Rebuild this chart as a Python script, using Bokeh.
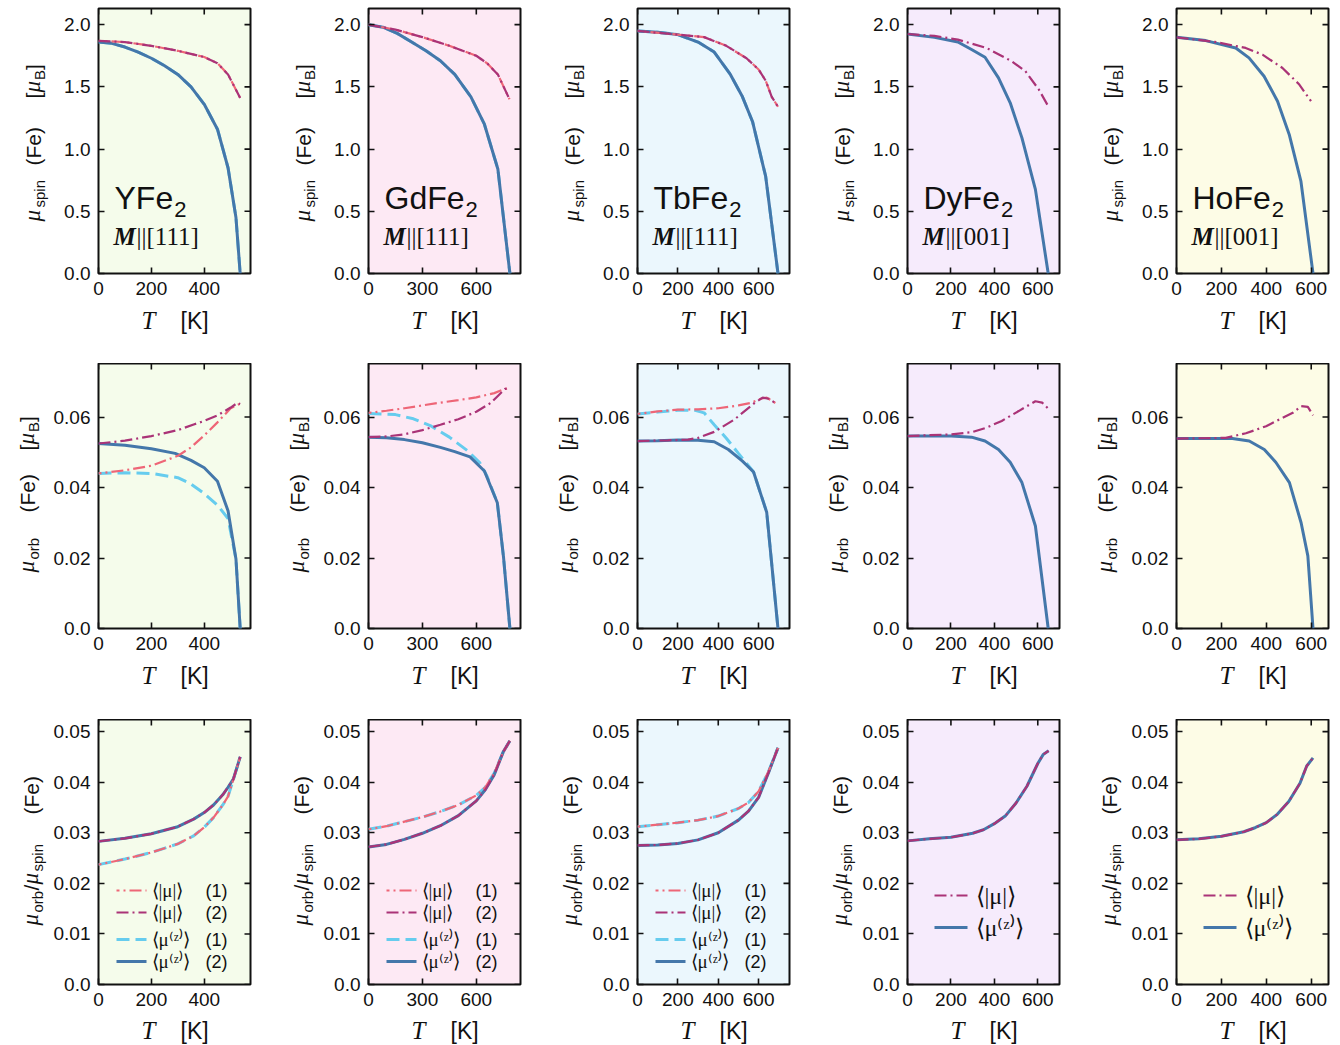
import math
from bokeh.plotting import figure
from bokeh.models import Range1d, FixedTicker, CustomJSTickFormatter, Label
from bokeh.layouts import column, row
from bokeh.embed import file_html
from bokeh.resources import INLINE

SANS = "Liberation Sans"
SERIF = "Liberation Serif"
INK = "#111111"

# ---------------- categories / labels ----------------
COMPOUNDS = ["YFe", "GdFe", "TbFe", "DyFe", "HoFe"]
DIRECTIONS = ["[111]", "[111]", "[111]", "[001]", "[001]"]
BG = ["#F5FCEB", "#FDE9F4", "#EBF7FD", "#F6EBFC", "#FDFCE6"]
X_MAX = [575, 846, 753, 700, 677]
X_TICKS = [[0, 200, 400], [0, 300, 600], [0, 200, 400, 600], [0, 200, 400, 600], [0, 200, 400, 600]]
Y_MAX = [2.13, 0.0752, 0.0524]
Y_TICKS = [[0, 0.5, 1.0, 1.5, 2.0], [0, 0.02, 0.04, 0.06], [0, 0.01, 0.02, 0.03, 0.04, 0.05]]

C_ABS1 = "#EE6677"
C_ABS2 = "#AA3377"
C_Z1 = "#66CCEE"
C_Z2 = "#4477AA"

# ---------------- YFe2 ----------------
YFE2_T_SPIN_Z = [0, 50, 100, 150, 200, 250, 300, 350, 400, 450, 490, 520, 536]
YFE2_SPIN_Z = [1.86, 1.85, 1.82, 1.78, 1.73, 1.67, 1.60, 1.50, 1.36, 1.16, 0.85, 0.45, 0.0]
YFE2_T_SPIN_ABS = [0, 100, 200, 300, 400, 450, 490, 536]
YFE2_SPIN_ABS = [1.87, 1.86, 1.83, 1.79, 1.74, 1.69, 1.60, 1.41]
YFE2_T_ORB_Z2 = [0, 100, 200, 290, 350, 400, 450, 490, 520, 536]
YFE2_ORB_Z2 = [0.0525, 0.0520, 0.0510, 0.0497, 0.0477, 0.0456, 0.0418, 0.0334, 0.0197, 0.0]
YFE2_T_ORB_Z1 = [0, 100, 200, 300, 350, 400, 450, 490, 520, 536]
YFE2_ORB_Z1 = [0.0440, 0.0442, 0.0440, 0.0428, 0.0410, 0.0383, 0.0350, 0.0312, 0.0197, 0.0]
YFE2_T_ORB_ABS1 = [0, 100, 200, 300, 350, 400, 450, 500, 536]
YFE2_ORB_ABS1 = [0.0440, 0.0449, 0.0462, 0.0490, 0.0514, 0.0548, 0.0585, 0.0625, 0.0638]
YFE2_T_ORB_ABS2 = [0, 100, 200, 300, 360, 400, 450, 500, 525, 536]
YFE2_ORB_ABS2 = [0.0525, 0.0533, 0.0546, 0.0563, 0.0579, 0.0589, 0.0605, 0.0627, 0.0640, 0.0637]
YFE2_T_RATIO = [0, 100, 200, 300, 360, 400, 435, 470, 490, 510, 536]
YFE2_RATIO2 = [0.0283, 0.0289, 0.0298, 0.0312, 0.0327, 0.0340, 0.0355, 0.0375, 0.0390, 0.0406, 0.0450]
YFE2_RATIO1 = [0.0237, 0.0248, 0.0261, 0.0278, 0.0294, 0.0311, 0.0330, 0.0355, 0.0372, 0.0405, 0.0450]

# ---------------- GdFe2 ----------------
GDFE2_T_SPIN_Z = [0, 80, 160, 240, 320, 400, 480, 570, 645, 720, 787]
GDFE2_SPIN_Z = [2.00, 1.98, 1.93, 1.86, 1.79, 1.71, 1.60, 1.42, 1.20, 0.84, 0.0]
GDFE2_T_SPIN_ABS = [0, 150, 300, 450, 600, 660, 720, 785]
GDFE2_SPIN_ABS = [2.00, 1.96, 1.90, 1.83, 1.75, 1.69, 1.60, 1.40]
GDFE2_T_ORB_Z2 = [0, 100, 200, 300, 400, 480, 565, 645, 717, 752, 787]
GDFE2_ORB_Z2 = [0.0543, 0.0541, 0.0536, 0.0527, 0.0514, 0.0502, 0.0487, 0.0447, 0.0357, 0.0200, 0.0]
GDFE2_T_ORB_Z1 = [0, 150, 250, 350, 450, 550, 620, 660, 717, 752, 787]
GDFE2_ORB_Z1 = [0.0610, 0.0607, 0.0595, 0.0574, 0.0543, 0.0505, 0.0470, 0.0432, 0.0357, 0.0200, 0.0]
GDFE2_T_ORB_ABS1 = [0, 100, 200, 300, 400, 500, 600, 700, 760, 787]
GDFE2_ORB_ABS1 = [0.0612, 0.0618, 0.0625, 0.0633, 0.0641, 0.0648, 0.0656, 0.0668, 0.0680, 0.0682]
GDFE2_T_ORB_ABS2 = [0, 100, 200, 300, 400, 500, 600, 680, 720, 760, 787]
GDFE2_ORB_ABS2 = [0.0543, 0.0545, 0.0551, 0.0563, 0.0578, 0.0594, 0.0615, 0.0640, 0.0660, 0.0680, 0.0680]
GDFE2_T_RATIO = [0, 100, 200, 300, 400, 500, 600, 650, 700, 750, 787]
GDFE2_RATIO2 = [0.0272, 0.0277, 0.0287, 0.0299, 0.0314, 0.0334, 0.0363, 0.0385, 0.0415, 0.0460, 0.0482]
GDFE2_RATIO1 = [0.0307, 0.0313, 0.0322, 0.0331, 0.0342, 0.0355, 0.0374, 0.0390, 0.0418, 0.0460, 0.0482]

# ---------------- TbFe2 ----------------
TBFE2_T_SPIN_Z = [0, 100, 200, 300, 380, 460, 520, 570, 635, 696]
TBFE2_SPIN_Z = [1.95, 1.94, 1.92, 1.86, 1.78, 1.60, 1.42, 1.22, 0.78, 0.0]
TBFE2_T_SPIN_ABS = [0, 200, 330, 440, 540, 600, 635, 665, 696]
TBFE2_SPIN_ABS = [1.95, 1.92, 1.90, 1.83, 1.73, 1.64, 1.55, 1.42, 1.34]
TBFE2_T_ORB_Z2 = [0, 100, 200, 300, 380, 450, 520, 575, 640, 696]
TBFE2_ORB_Z2 = [0.0532, 0.0533, 0.0535, 0.0534, 0.0530, 0.0508, 0.0475, 0.0444, 0.0330, 0.0]
TBFE2_T_ORB_Z1 = [0, 100, 200, 280, 330, 380, 440, 500, 575, 640, 696]
TBFE2_ORB_Z1 = [0.0609, 0.0614, 0.0619, 0.0620, 0.0612, 0.0578, 0.0540, 0.0497, 0.0444, 0.0330, 0.0]
TBFE2_T_ORB_ABS1 = [0, 100, 200, 300, 400, 500, 560, 610, 640, 670, 690]
TBFE2_ORB_ABS1 = [0.0609, 0.0616, 0.0621, 0.0622, 0.0625, 0.0633, 0.0640, 0.0652, 0.0655, 0.0645, 0.0637]
TBFE2_T_ORB_ABS2 = [0, 150, 250, 300, 380, 480, 580, 620, 650, 690]
TBFE2_ORB_ABS2 = [0.0532, 0.0534, 0.0536, 0.0541, 0.0558, 0.0593, 0.0640, 0.0655, 0.0652, 0.0637]
TBFE2_T_RATIO = [0, 100, 200, 300, 400, 500, 550, 600, 650, 696]
TBFE2_RATIO2 = [0.0275, 0.0276, 0.0279, 0.0286, 0.0300, 0.0325, 0.0343, 0.0370, 0.0420, 0.0468]
TBFE2_RATIO1 = [0.0312, 0.0316, 0.0320, 0.0325, 0.0333, 0.0348, 0.0360, 0.0382, 0.0422, 0.0468]

# ---------------- DyFe2 ----------------
DYFE2_T_SPIN_Z = [0, 124, 232, 295, 357, 419, 473, 527, 589, 648]
DYFE2_SPIN_Z = [1.925, 1.898, 1.861, 1.80, 1.738, 1.572, 1.372, 1.09, 0.676, 0.0]
DYFE2_T_SPIN_ABS = [0, 124, 232, 364, 480, 543, 605, 648]
DYFE2_SPIN_ABS = [1.925, 1.91, 1.88, 1.813, 1.706, 1.626, 1.478, 1.345]
DYFE2_T_ORB_Z = [0, 202, 295, 357, 419, 473, 527, 589, 648]
DYFE2_ORB_Z = [0.0546, 0.0546, 0.0543, 0.0532, 0.0508, 0.0472, 0.0414, 0.0291, 0.0]
DYFE2_T_ORB_ABS = [0, 202, 295, 364, 434, 512, 589, 620, 648]
DYFE2_ORB_ABS = [0.0546, 0.0551, 0.0557, 0.0570, 0.0589, 0.0617, 0.0645, 0.0641, 0.0624]
DYFE2_T_RATIO = [0, 100, 200, 300, 350, 400, 450, 500, 550, 600, 625, 650]
DYFE2_RATIO = [0.0284, 0.0288, 0.0291, 0.0299, 0.0306, 0.0318, 0.0333, 0.0359, 0.0392, 0.0437, 0.0455, 0.0462]

# ---------------- HoFe2 ----------------
HOFE2_T_SPIN_Z = [0, 130, 264, 323, 390, 450, 502, 554, 608]
HOFE2_SPIN_Z = [1.898, 1.872, 1.813, 1.733, 1.586, 1.385, 1.118, 0.743, 0.0]
HOFE2_T_SPIN_ABS = [0, 174, 308, 383, 472, 547, 599]
HOFE2_SPIN_ABS = [1.898, 1.861, 1.813, 1.759, 1.652, 1.519, 1.385]
HOFE2_T_ORB_Z = [0, 249, 324, 391, 443, 503, 555, 585, 608]
HOFE2_ORB_Z = [0.0539, 0.0539, 0.0532, 0.0508, 0.0471, 0.0414, 0.0300, 0.0206, 0.0]
HOFE2_T_ORB_ABS = [0, 219, 309, 399, 473, 518, 555, 585, 608]
HOFE2_ORB_ABS = [0.0539, 0.0541, 0.0554, 0.0574, 0.0598, 0.0612, 0.0631, 0.0629, 0.0605]
HOFE2_T_RATIO = [0, 100, 200, 300, 350, 400, 450, 500, 550, 580, 608]
HOFE2_RATIO = [0.0286, 0.0288, 0.0293, 0.0302, 0.0310, 0.0320, 0.0337, 0.0362, 0.0398, 0.0432, 0.0448]

# (kind, T, values) per panel; kinds: z1, z2, abs1, abs2
PANELS = {
    (0, 0): [("z1", YFE2_T_SPIN_Z, YFE2_SPIN_Z), ("z2", YFE2_T_SPIN_Z, YFE2_SPIN_Z),
             ("abs1", YFE2_T_SPIN_ABS, YFE2_SPIN_ABS), ("abs2", YFE2_T_SPIN_ABS, YFE2_SPIN_ABS)],
    (1, 0): [("z1", YFE2_T_ORB_Z1, YFE2_ORB_Z1), ("z2", YFE2_T_ORB_Z2, YFE2_ORB_Z2),
             ("abs1", YFE2_T_ORB_ABS1, YFE2_ORB_ABS1), ("abs2", YFE2_T_ORB_ABS2, YFE2_ORB_ABS2)],
    (2, 0): [("z1", YFE2_T_RATIO, YFE2_RATIO1), ("z2", YFE2_T_RATIO, YFE2_RATIO2),
             ("abs1", YFE2_T_RATIO, YFE2_RATIO1), ("abs2", YFE2_T_RATIO, YFE2_RATIO2)],
    (0, 1): [("z1", GDFE2_T_SPIN_Z, GDFE2_SPIN_Z), ("z2", GDFE2_T_SPIN_Z, GDFE2_SPIN_Z),
             ("abs1", GDFE2_T_SPIN_ABS, GDFE2_SPIN_ABS), ("abs2", GDFE2_T_SPIN_ABS, GDFE2_SPIN_ABS)],
    (1, 1): [("z1", GDFE2_T_ORB_Z1, GDFE2_ORB_Z1), ("z2", GDFE2_T_ORB_Z2, GDFE2_ORB_Z2),
             ("abs1", GDFE2_T_ORB_ABS1, GDFE2_ORB_ABS1), ("abs2", GDFE2_T_ORB_ABS2, GDFE2_ORB_ABS2)],
    (2, 1): [("z1", GDFE2_T_RATIO, GDFE2_RATIO1), ("z2", GDFE2_T_RATIO, GDFE2_RATIO2),
             ("abs1", GDFE2_T_RATIO, GDFE2_RATIO1), ("abs2", GDFE2_T_RATIO, GDFE2_RATIO2)],
    (0, 2): [("z1", TBFE2_T_SPIN_Z, TBFE2_SPIN_Z), ("z2", TBFE2_T_SPIN_Z, TBFE2_SPIN_Z),
             ("abs1", TBFE2_T_SPIN_ABS, TBFE2_SPIN_ABS), ("abs2", TBFE2_T_SPIN_ABS, TBFE2_SPIN_ABS)],
    (1, 2): [("z1", TBFE2_T_ORB_Z1, TBFE2_ORB_Z1), ("z2", TBFE2_T_ORB_Z2, TBFE2_ORB_Z2),
             ("abs1", TBFE2_T_ORB_ABS1, TBFE2_ORB_ABS1), ("abs2", TBFE2_T_ORB_ABS2, TBFE2_ORB_ABS2)],
    (2, 2): [("z1", TBFE2_T_RATIO, TBFE2_RATIO1), ("z2", TBFE2_T_RATIO, TBFE2_RATIO2),
             ("abs1", TBFE2_T_RATIO, TBFE2_RATIO1), ("abs2", TBFE2_T_RATIO, TBFE2_RATIO2)],
    (0, 3): [("z2", DYFE2_T_SPIN_Z, DYFE2_SPIN_Z), ("abs2", DYFE2_T_SPIN_ABS, DYFE2_SPIN_ABS)],
    (1, 3): [("z2", DYFE2_T_ORB_Z, DYFE2_ORB_Z), ("abs2", DYFE2_T_ORB_ABS, DYFE2_ORB_ABS)],
    (2, 3): [("z2", DYFE2_T_RATIO, DYFE2_RATIO), ("abs2", DYFE2_T_RATIO, DYFE2_RATIO)],
    (0, 4): [("z2", HOFE2_T_SPIN_Z, HOFE2_SPIN_Z), ("abs2", HOFE2_T_SPIN_ABS, HOFE2_SPIN_ABS)],
    (1, 4): [("z2", HOFE2_T_ORB_Z, HOFE2_ORB_Z), ("abs2", HOFE2_T_ORB_ABS, HOFE2_ORB_ABS)],
    (2, 4): [("z2", HOFE2_T_RATIO, HOFE2_RATIO), ("abs2", HOFE2_T_RATIO, HOFE2_RATIO)],
}

# ---------------- styles / geometry ----------------
STYLE = {
    "z1": dict(line_color=C_Z1, line_width=3.0, line_dash="13 6"),
    "z2": dict(line_color=C_Z2, line_width=3.0),
    "abs1": dict(line_color=C_ABS1, line_width=2.2, line_dash="12 4 2 4", line_dash_offset=9),
    "abs2": dict(line_color=C_ABS2, line_width=2.2, line_dash="12 4 2 4"),
}
ORDER = ["z1", "z2", "abs1", "abs2"]
FW, FH = 152, 265
D = [98, 101, 100, 101, 100]     # frame left measured from cell start
BL = [46, 49, 49]                # main figure left border per row (tick labels)
BR = [17, 17, 17, 17, 4]         # main figure right border
TOP = [8, 0, 0]
BOTB = [34, 34, 32]
XLAB_H = [56, 57, 29]
XLAB_BASE = [34.4, 35.4, 6]      # baseline of x title above strip bottom
BASE_K = 0.35                    # baseline correction (em)

ARIAL = {'Y': 667, 'F': 611, 'e': 556, 'G': 778, 'd': 556, 'T': 611, 'b': 556, 'D': 722,
         'y': 500, 'H': 722, 'o': 556}


def sans_w(s, size):
    return sum(ARIAL[ch] for ch in s) / 1000.0 * size


def lab(p, x, y, text, size, font=SANS, style="normal", angle=0.0, baseline="alphabetic", align="left"):
    if baseline == "alphabetic":
        if angle == 0.0:
            y = y + BASE_K * size
        else:
            x = x - BASE_K * size
    p.add_layout(Label(x=x, y=y, x_units="screen", y_units="screen", text=text, angle=angle,
                       text_font=font, text_font_size=f"{size}px", text_font_style=style,
                       text_baseline=baseline, text_align=align, text_color=INK))


def style_axis(ax, ticks, fmt=None):
    ax.ticker = FixedTicker(ticks=ticks)
    ax.axis_line_color = None
    ax.major_tick_in = 6
    ax.major_tick_out = 0
    ax.major_tick_line_color = INK
    ax.major_tick_line_width = 1.6
    ax.minor_tick_line_color = None
    ax.axis_label = None
    ax.major_label_text_font = SANS
    ax.major_label_text_color = INK
    ax.major_label_text_font_size = "19px"
    ax.major_label_standoff = 8
    if fmt is not None:
        ax.formatter = fmt


def blank_fig(w, h):
    f = figure(frame_width=w, frame_height=h, output_backend="svg", toolbar_location=None,
               x_axis_location=None, y_axis_location=None, min_border=0,
               x_range=Range1d(0, 1), y_range=Range1d(0, 1))
    f.outline_line_color = None
    f.background_fill_color = "white"
    f.border_fill_color = "white"
    for g in f.grid:
        g.visible = False
    return f


YLABEL_PIECES = [
    # (text, font, style, size, position along, baseline offset from frame left)
    [("μ", SERIF, "italic", 23, 60, -58), ("spin", SANS, "normal", 15, 74, -54),
     ("(Fe)", SANS, "normal", 21, 116, -58), ("[", SANS, "normal", 21, 183, -58),
     ("μ", SERIF, "italic", 23, 189, -58), ("B", SANS, "normal", 15, 201.5, -54),
     ("]", SANS, "normal", 21, 211.5, -58)],
    [("μ", SERIF, "italic", 23, 56, -64), ("orb", SANS, "normal", 15, 69, -60),
     ("(Fe)", SANS, "normal", 21, 116, -64), ("[", SANS, "normal", 21, 178, -64),
     ("μ", SERIF, "italic", 23, 184, -64), ("B", SANS, "normal", 15, 196.5, -60),
     ("]", SANS, "normal", 21, 206.5, -64)],
    [("μ", SERIF, "italic", 23, 59, -60), ("orb", SANS, "normal", 15, 72, -56),
     ("/", SANS, "normal", 21, 94, -60), ("μ", SERIF, "italic", 23, 100, -60),
     ("spin", SANS, "normal", 15, 113, -56), ("(Fe)", SANS, "normal", 21, 170, -60)],
]


def make_ylabel(r, c):
    h = TOP[r] + FH + BOTB[r]
    f = blank_fig(D[c] - BL[r], h)
    for text, font, st, size, along, off in YLABEL_PIECES[r]:
        lab(f, D[c] + off, BOTB[r] + along, text, size, font, st, angle=math.pi / 2)
    return f


def make_xlabel(r, c):
    w = D[c] + FW + BR[c]
    f = blank_fig(w, XLAB_H[r])
    lab(f, D[c] + 43, XLAB_BASE[r], "T", 25, SERIF, "italic")
    lab(f, D[c] + 82, XLAB_BASE[r], "[K]", 23, SANS)
    return f


def make_panel(r, c):
    xr, yr = X_MAX[c], Y_MAX[r]
    p = figure(frame_width=FW, frame_height=FH, output_backend="svg", toolbar_location=None,
               x_range=Range1d(0, xr), y_range=Range1d(0, yr),
               min_border_left=BL[r], min_border_right=BR[c],
               min_border_top=TOP[r], min_border_bottom=BOTB[r])
    p.background_fill_color = BG[c]
    p.border_fill_color = "white"
    p.outline_line_color = INK
    p.outline_line_width = 2
    p.xgrid.visible = False
    p.ygrid.visible = False

    if r == 0:
        yfmt = CustomJSTickFormatter(code="return tick.toFixed(1);")
    else:
        yfmt = CustomJSTickFormatter(code="return tick == 0 ? '0.0' : tick.toFixed(2);")
    style_axis(p.xaxis[0], X_TICKS[c])
    style_axis(p.yaxis[0], Y_TICKS[r], yfmt)

    # mirrored inward ticks on top and right edges
    tx = X_TICKS[c]
    p.segment(x0=tx, x1=tx, y0=[yr] * len(tx), y1=[yr - yr * 6 / FH] * len(tx),
              line_color=INK, line_width=1.6)
    ty = Y_TICKS[r]
    p.segment(x0=[xr] * len(ty), x1=[xr - xr * 6 / FW] * len(ty), y0=ty, y1=ty,
              line_color=INK, line_width=1.6)

    series = {k: (T, v) for k, T, v in PANELS[(r, c)]}
    for k in ORDER:
        if k in series:
            T, v = series[k]
            p.line(T, v, **STYLE[k])

    if r == 0:
        name = COMPOUNDS[c]
        lab(p, 16, 64.5, name, 32, SANS)
        lab(p, 16 + sans_w(name, 32) + 1, 56, "2", 22, SANS)
        lab(p, 15, 28, "M", 25, SERIF, "bold italic")
        lab(p, 38, 28, "||" + DIRECTIONS[c], 25, SERIF)

    if r == 2:
        if c < 3:
            entries = [("abs1", "⟨|μ|⟩", "(1)", 94), ("abs2", "⟨|μ|⟩", "(2)", 72),
                       ("z1", "⟨μ⁽ᶻ⁾⟩", "(1)", 45), ("z2", "⟨μ⁽ᶻ⁾⟩", "(2)", 23)]
            x0, x1, xt, xn, fs = 18, 48, 53, 107, 19
        else:
            entries = [("abs2", "⟨|μ|⟩", None, 89), ("z2", "⟨μ⁽ᶻ⁾⟩", None, 57)]
            x0, x1, xt, xn, fs = 27, 60, 68, None, 24
        for k, txt, num, yy in entries:
            p.line([xr * x0 / FW, xr * x1 / FW], [yr * yy / FH, yr * yy / FH], **STYLE[k])
            lab(p, xt, yy, txt, fs, SERIF, baseline="middle")
            if num:
                lab(p, xn, yy, num, 18, SANS, baseline="middle")
    return p


blocks = []
for r in range(3):
    cells = []
    for c in range(5):
        cells.append(make_ylabel(r, c))
        cells.append(make_panel(r, c))
    blocks.append(row(*cells))
    blocks.append(row(*[make_xlabel(r, c) for c in range(5)]))
layout = column(*blocks)

open("out.html", "w").write(file_html(layout, INLINE))
